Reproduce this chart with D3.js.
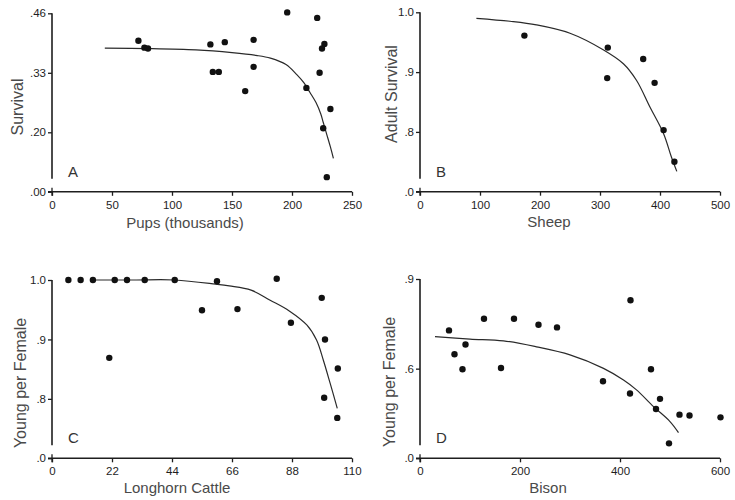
<!DOCTYPE html>
<html>
<head>
<meta charset="utf-8">
<script src="https://cdn.jsdelivr.net/npm/d3@7"></script>
<style>
  html, body { margin: 0; padding: 0; background: #fff; }
  svg { display: block; font-family: "Liberation Sans", Arial, Helvetica, sans-serif; }
</style>
</head>
<body>
<svg id="chart" width="735" height="500"></svg>
<script>
// ---- A: fur seal pups ----
const pupsX = [72, 77, 80, 132, 144, 134, 139, 168, 168, 161, 196, 221, 227, 225, 223, 212, 232, 226, 229];
const pupsSurvival = [0.400, 0.385, 0.383, 0.392, 0.397, 0.332, 0.332, 0.402, 0.343, 0.290, 0.462, 0.450, 0.393, 0.383, 0.330, 0.297, 0.251, 0.209, 0.102];
const pupsFitX = [44, 80, 120, 150, 170, 182, 195, 204, 210, 215, 220, 224, 226, 229, 232, 234.5];
const pupsFitY = [0.384, 0.383, 0.380, 0.374, 0.368, 0.362, 0.348, 0.326, 0.308, 0.287, 0.265, 0.240, 0.222, 0.195, 0.168, 0.143];
const pupsXTicks = [0, 50, 100, 150, 200, 250];
const pupsYTicks = [0.07, 0.20, 0.33, 0.46];
const pupsYLabels = [".00", ".20", ".33", ".46"];

// ---- B: sheep ----
const sheepX = [174, 313, 312, 372, 391, 406, 424];
const sheepSurvival = [0.961, 0.941, 0.890, 0.922, 0.882, 0.803, 0.750];
const sheepFitX = [94, 150, 194, 250, 306, 339, 361, 383, 406, 419, 428];
const sheepFitY = [0.990, 0.985, 0.979, 0.965, 0.937, 0.914, 0.886, 0.842, 0.797, 0.758, 0.734];
const sheepXTicks = [0, 100, 200, 300, 400, 500];
const sheepYTicks = [0.7, 0.8, 0.9, 1.0];
const sheepYLabels = [".0", ".8", ".9", "1.0"];

// ---- C: longhorn cattle ----
const cattleX = [6, 10.5, 15, 23, 27.5, 34, 45, 60.5, 21, 55, 68, 82.4, 87.6, 98.9, 100.1, 99.8, 104.8, 104.6];
const cattleYoung = [1, 1, 1, 1, 1, 1, 1, 0.998, 0.869, 0.949, 0.951, 1.002, 0.928, 0.970, 0.900, 0.802, 0.851, 0.768];
const cattleFitX = [15, 30, 45, 60, 65, 73, 80, 87, 93.5, 97, 99.5, 102, 104.6];
const cattleFitY = [1.0, 1.0, 1.0, 0.993, 0.990, 0.983, 0.966, 0.948, 0.924, 0.899, 0.865, 0.826, 0.784];
const cattleXTicks = [0, 22, 44, 66, 88, 110];
const cattleYTicks = [0.7, 0.8, 0.9, 1.0];
const cattleYLabels = [".0", ".8", ".9", "1.0"];

// ---- D: bison ----
const bisonX = [58, 69, 85, 91, 128, 162, 188, 237, 274, 366, 421, 420, 462, 480, 472, 498, 519, 539, 601];
const bisonYoung = [0.728, 0.648, 0.598, 0.681, 0.767, 0.602, 0.767, 0.747, 0.738, 0.558, 0.829, 0.517, 0.598, 0.499, 0.465, 0.350, 0.446, 0.443, 0.437];
const bisonFitX = [30, 100, 167, 233, 300, 367, 407, 433, 467, 500, 517];
const bisonFitY = [0.707, 0.699, 0.693, 0.673, 0.646, 0.601, 0.562, 0.529, 0.473, 0.423, 0.386];
const bisonXTicks = [0, 200, 400, 600];
const bisonYTicks = [0.3, 0.6, 0.9];
const bisonYLabels = [".0", ".6", ".9"];

// Panel layout: frame in pixels, domains, titles
const panels = [
  { letter: "A", x0: 52, x1: 352, yTop: 13.3, yBot: 191.8, xDom: [0, 250], yDom: [0.07, 0.46],
    xs: pupsX, ys: pupsSurvival, fx: pupsFitX, fy: pupsFitY,
    xTicks: pupsXTicks, yTicks: pupsYTicks, yLabels: pupsYLabels,
    xTitle: "Pups (thousands)", yTitle: "Survival", xTitleX: 185, xTitleY: 228, yTitleX: 23, yTitleY: 107 },
  { letter: "B", x0: 420, x1: 720, yTop: 12.3, yBot: 191.7, xDom: [0, 500], yDom: [0.7, 1.0],
    xs: sheepX, ys: sheepSurvival, fx: sheepFitX, fy: sheepFitY,
    xTicks: sheepXTicks, yTicks: sheepYTicks, yLabels: sheepYLabels,
    xTitle: "Sheep", yTitle: "Adult Survival", xTitleX: 549, xTitleY: 227, yTitleX: 397, yTitleY: 94 },
  { letter: "C", x0: 52, x1: 352, yTop: 280, yBot: 458.3, xDom: [0, 110], yDom: [0.7, 1.0],
    xs: cattleX, ys: cattleYoung, fx: cattleFitX, fy: cattleFitY,
    xTicks: cattleXTicks, yTicks: cattleYTicks, yLabels: cattleYLabels,
    xTitle: "Longhorn Cattle", yTitle: "Young per Female", xTitleX: 177, xTitleY: 493, yTitleX: 26, yTitleY: 383 },
  { letter: "D", x0: 420, x1: 720, yTop: 279, yBot: 458.3, xDom: [0, 600], yDom: [0.3, 0.9],
    xs: bisonX, ys: bisonYoung, fx: bisonFitX, fy: bisonFitY,
    xTicks: bisonXTicks, yTicks: bisonYTicks, yLabels: bisonYLabels,
    xTitle: "Bison", yTitle: "Young per Female", xTitleX: 548, xTitleY: 493, yTitleX: 395, yTitleY: 382 }
];

const svg = d3.select("#chart");
const ink = "#1e1e1e";
const labelInk = "#4a4a4a";

panels.forEach(p => {
  const g = svg.append("g");
  const x = d3.scaleLinear().domain(p.xDom).range([p.x0, p.x1]);
  const y = d3.scaleLinear().domain(p.yDom).range([p.yBot, p.yTop]);

  // x axis
  const xAxis = g.append("g")
    .attr("transform", `translate(0,${p.yBot})`)
    .call(d3.axisBottom(x).tickValues(p.xTicks).tickFormat(d3.format("d"))
      .tickSize(4).tickSizeOuter(0).tickPadding(5));
  xAxis.select(".domain").remove();
  xAxis.selectAll(".tick line").attr("stroke", ink).attr("stroke-width", 1.3);
  xAxis.selectAll(".tick text").attr("fill", ink).style("font-size", "11.5px");
  g.append("line")
    .attr("x1", p.x0 - 4).attr("x2", p.x1)
    .attr("y1", p.yBot).attr("y2", p.yBot)
    .attr("stroke", ink).attr("stroke-width", 1.6);

  // y axis (broken just above the origin)
  const yAxis = g.append("g")
    .attr("transform", `translate(${p.x0},0)`)
    .call(d3.axisLeft(y).tickValues(p.yTicks).tickFormat((d, i) => p.yLabels[i])
      .tickSize(4).tickSizeOuter(0).tickPadding(2));
  yAxis.select(".domain").remove();
  yAxis.selectAll(".tick line").attr("stroke", ink).attr("stroke-width", 1.3);
  yAxis.selectAll(".tick text").attr("fill", ink).style("font-size", "11.5px");
  g.append("line")
    .attr("x1", p.x0).attr("x2", p.x0)
    .attr("y1", p.yTop).attr("y2", p.yBot - 13)
    .attr("stroke", ink).attr("stroke-width", 1.6);
  g.append("line")
    .attr("x1", p.x0).attr("x2", p.x0)
    .attr("y1", p.yBot - 4).attr("y2", p.yBot + 4)
    .attr("stroke", ink).attr("stroke-width", 1.3);

  // fitted curve
  const fit = p.fx.map((v, i) => [v, p.fy[i]]);
  g.append("path")
    .datum(fit)
    .attr("fill", "none")
    .attr("stroke", "#2a2a2a")
    .attr("stroke-width", 1.2)
    .attr("d", d3.line().x(d => x(d[0])).y(d => y(d[1])).curve(d3.curveCatmullRom.alpha(0.5)));

  // observations
  g.selectAll("circle.obs")
    .data(p.xs.map((v, i) => [v, p.ys[i]]))
    .join("circle")
    .attr("class", "obs")
    .attr("cx", d => x(d[0]))
    .attr("cy", d => y(d[1]))
    .attr("r", 3.2)
    .attr("fill", "#111");

  // titles
  g.append("text")
    .attr("x", p.xTitleX).attr("y", p.xTitleY)
    .attr("text-anchor", "middle")
    .attr("fill", labelInk)
    .style("font-size", "15px")
    .text(p.xTitle);
  g.append("text")
    .attr("transform", `translate(${p.yTitleX},${p.yTitleY}) rotate(-90)`)
    .attr("text-anchor", "middle")
    .attr("fill", labelInk)
    .style("font-size", "16px")
    .text(p.yTitle);

  // panel letter
  g.append("text")
    .attr("x", p.x0 + 16).attr("y", p.yBot - 15)
    .attr("fill", "#333")
    .style("font-size", "15px")
    .text(p.letter);
});
</script>
</body>
</html>
